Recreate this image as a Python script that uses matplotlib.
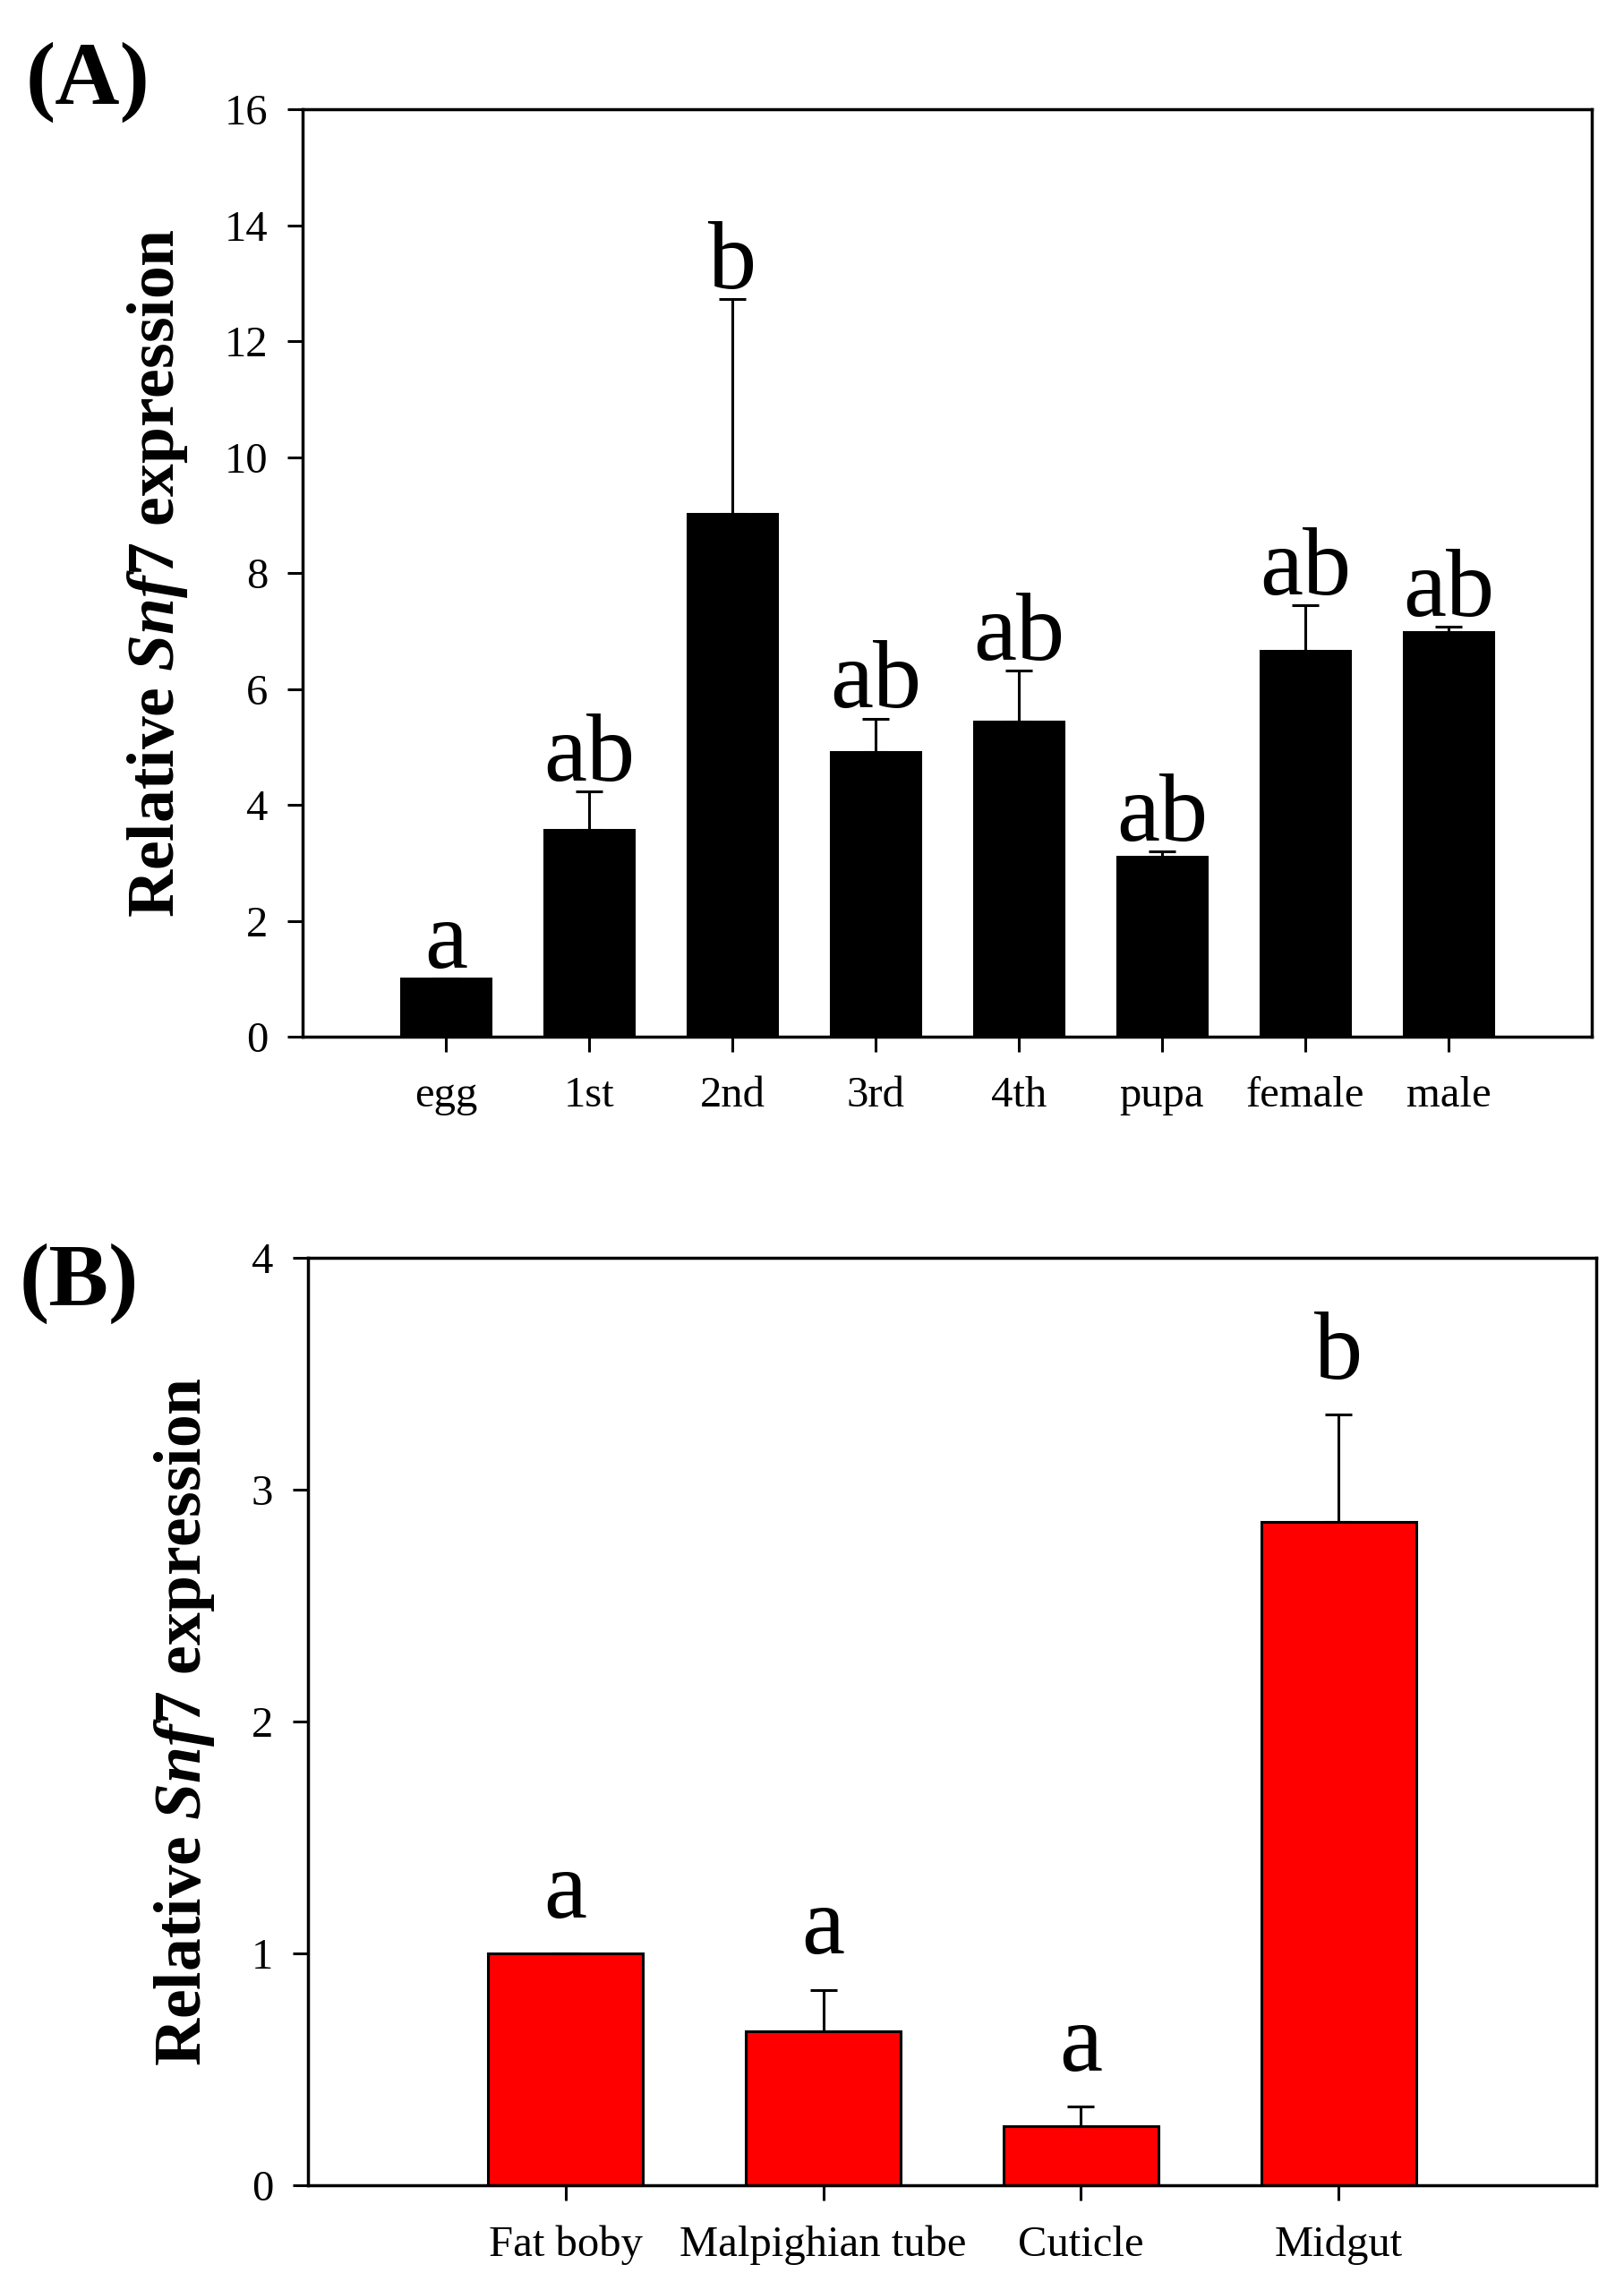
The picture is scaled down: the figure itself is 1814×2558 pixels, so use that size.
import numpy as np
import matplotlib
matplotlib.use("Agg")
import matplotlib.pyplot as plt

# Fuente tipo Times
plt.rcParams['font.family'] = ['Liberation Serif', 'DejaVu Serif']
plt.rcParams['mathtext.fontset'] = 'custom'
plt.rcParams['mathtext.it'] = 'Liberation Serif:italic:bold'
plt.rcParams['mathtext.rm'] = 'Liberation Serif:bold'
plt.rcParams['mathtext.bf'] = 'Liberation Serif:bold'

# Datos panel A (estadios)
stages = ['egg', '1st', '2nd', '3rd', '4th', 'pupa', 'female', 'male']
stage_mean = [1.0, 3.57, 9.02, 4.91, 5.44, 3.10, 6.65, 6.98]
stage_err = [0.0, 0.66, 3.70, 0.58, 0.87, 0.09, 0.79, 0.09]
stage_letters = ['a', 'ab', 'b', 'ab', 'ab', 'ab', 'ab', 'ab']

# Datos panel B (tejidos)
tissues = ['Fat boby', 'Malpighian tube', 'Cuticle', 'Midgut']
tissue_mean = [1.0, 0.665, 0.257, 2.86]
tissue_err = [0.0, 0.178, 0.083, 0.464]
tissue_letters = ['a', 'a', 'a', 'b']

ylabel = 'Relative $\\mathit{Snf7}$ expression'

fig = plt.figure(figsize=(18.14, 25.58), dpi=100)
axA = fig.add_axes([0.1863, 0.5473, 0.7938, 0.405])
axB = fig.add_axes([0.1896, 0.0457, 0.7933, 0.405])


def draw_panel(ax, names, means, errs, letters, color, width, ymax, yticks, offset):
    x = np.arange(len(names))
    ax.bar(x, means, width=width, color=color, edgecolor='black', linewidth=2.2, zorder=2)
    ax.errorbar(x, means, yerr=[np.zeros(len(errs)), errs], fmt='none', ecolor='black',
                elinewidth=2.2, capsize=11, capthick=2.2, zorder=3)
    for xi, m, e, lab in zip(x, means, errs, letters):
        ax.annotate(lab, (xi, m + e), xytext=(0, offset), textcoords='offset points',
                    ha='center', va='baseline', fontsize=78)
    ax.set_xlim(-1, len(names))
    ax.set_ylim(0, ymax)
    ax.set_xticks(x)
    ax.set_xticklabels(names)
    ax.set_yticks(yticks)
    for s in ax.spines.values():
        s.set_linewidth(2.5)
    ax.tick_params(axis='both', direction='out', length=12, width=2.2, labelsize=35)
    ax.tick_params(axis='y', pad=16)
    ax.tick_params(axis='x', pad=20)
    ax.set_ylabel(ylabel, fontsize=53, fontweight='bold', labelpad=28)


draw_panel(axA, stages, stage_mean, stage_err, stage_letters, 'black', 0.62, 16,
           np.arange(0, 17, 2), 9)
draw_panel(axB, tissues, tissue_mean, tissue_err, tissue_letters, '#ff0000', 0.60, 4,
           np.arange(0, 5, 1), 29)

fig.text(29 / 1814, 0.9547, '(A)', fontsize=72, fontweight='bold', ha='left', va='baseline')
fig.text(22 / 1814, 0.430, '(B)', fontsize=72, fontweight='bold', ha='left', va='baseline')

fig.savefig('out.png', dpi=100)
